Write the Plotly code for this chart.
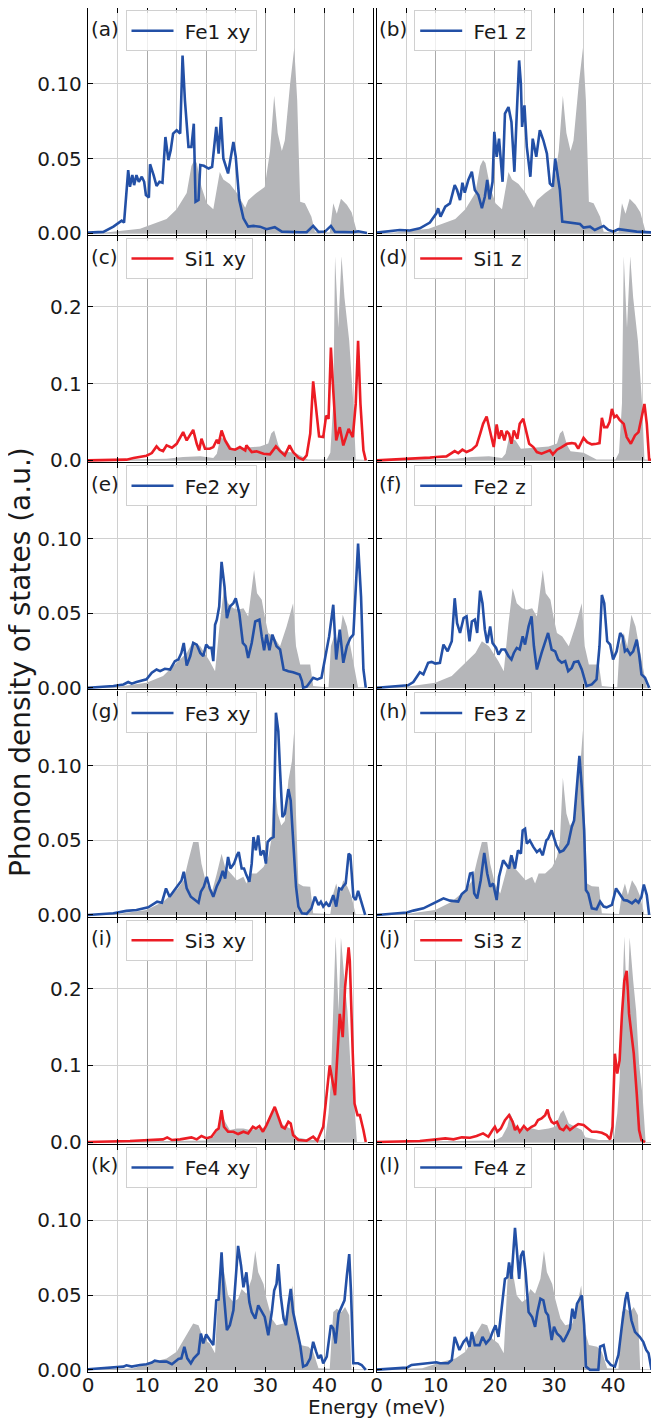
import plotly.graph_objects as go

# ---------------- data (energy in meV, phonon DOS in a.u.) ----------------
E_FE1_XY = [0, 2.6, 4.3, 5.7, 6.1, 6.8, 7.1, 7.5, 7.8, 8.2, 8.6, 9.1, 9.5, 9.8, 10.3, 10.5, 11.1, 11.6, 12.1, 12.6,
            13.1, 13.6, 14.0, 14.4, 15.0, 15.6, 16.0, 16.4, 17.0, 17.5, 17.9, 18.2, 18.7, 19.0, 19.6, 20.4, 21.0, 21.7,
            22.1, 22.5, 22.9, 23.7, 24.6, 25.0, 25.6, 26.3, 27.1, 28.0, 29.1, 30.2, 31.6, 32.8, 35.9, 37.0, 38.1, 39.0,
            40.1, 41.1, 41.8, 44.9, 45.7, 47.2]
D_FE1_XY = [0.0004, 0.0009, 0.0044, 0.0084, 0.0071, 0.0422, 0.0311, 0.0389, 0.0322, 0.0389, 0.0344, 0.0378, 0.0344,
            0.0256, 0.024, 0.0462, 0.0389, 0.0316, 0.0344, 0.0338, 0.0644, 0.0489, 0.0556, 0.0667, 0.0689, 0.0667,
            0.1189, 0.0889, 0.0578, 0.0578, 0.0733, 0.0211, 0.0222, 0.0456, 0.0451, 0.0433, 0.0444, 0.0711, 0.0533,
            0.0778, 0.05, 0.04, 0.0611, 0.0511, 0.0222, 0.01, 0.0044, 0.0049, 0.0044, 0.0027, 0.004, 0.0011, 0.0007,
            0.0007, 0.0049, 0.0009, 0.0011, 0.0049, 0.0009, 0.0007, 0.0013, 0.0002]

E_FE1_Z = [0, 3.9, 5.6, 7.3, 9.0, 10.1, 10.4, 10.8, 11.6, 12.4, 13.2, 13.6, 14.1, 14.5, 14.9, 15.5, 16.1, 16.6, 17.2,
           17.8, 18.3, 18.7, 19.1, 19.6, 19.9, 20.3, 20.7, 21.3, 21.7, 22.3, 22.8, 23.3, 23.7, 24.1, 24.4, 24.6, 25.0,
           25.4, 26.0, 26.4, 27.0, 27.6, 28.2, 28.8, 29.3, 29.8, 30.2, 30.6, 31.0, 31.4, 32.7, 34.4, 35.0, 36.1, 36.9,
           38.4, 39.2, 40.0, 40.9, 42.3, 44.0, 47.4]
D_FE1_Z = [0.0004, 0.0022, 0.0018, 0.0033, 0.0071, 0.0133, 0.0167, 0.0111, 0.0178, 0.02, 0.0322, 0.0289, 0.0222,
           0.0338, 0.0271, 0.0356, 0.0411, 0.0289, 0.0256, 0.0167, 0.0244, 0.0356, 0.0227, 0.0344, 0.0678, 0.0511,
           0.0633, 0.0344, 0.08, 0.0844, 0.0744, 0.0411, 0.08, 0.1156, 0.1, 0.0711, 0.0856, 0.0578, 0.0378, 0.0633,
           0.0511, 0.0689, 0.0622, 0.0533, 0.0333, 0.0311, 0.05, 0.04, 0.0289, 0.0078, 0.0071, 0.0062, 0.0038, 0.0044,
           0.0022, 0.0049, 0.0022, 0.0011, 0.0027, 0.0022, 0.0011, 0.0004]

E_SI1_XY = [0, 4.9, 6.5, 7.7, 8.8, 9.9, 10.8, 11.6, 12.1, 12.7, 13.3, 14.2, 15.0, 16.1, 16.7, 17.3, 17.8, 18.4, 18.8,
            19.2, 19.8, 20.6, 21.2, 21.8, 22.1, 22.6, 23.2, 24.0, 24.9, 25.7, 26.6, 26.8, 27.7, 28.5, 29.7, 30.8, 31.8,
            32.5, 33.3, 34.1, 34.7, 35.6, 36.4, 37.0, 37.6, 38.1, 38.6, 39.1, 39.8, 40.3, 40.7, 41.1, 41.5, 42.0, 42.6,
            43.2, 44.1, 44.8, 45.3, 45.7, 46.1, 46.6, 47.0]
D_SI1_XY = [0, 0, 0.0009, 0.003, 0.0043, 0.0061, 0.0095, 0.0182, 0.0139, 0.0121, 0.0195, 0.0165, 0.0216, 0.0368,
            0.026, 0.0346, 0.0398, 0.0216, 0.013, 0.0281, 0.0152, 0.0152, 0.0173, 0.0268, 0.0216, 0.039, 0.026,
            0.0152, 0.0139, 0.0173, 0.013, 0.0195, 0.0108, 0.0117, 0.0087, 0.0078, 0.0182, 0.0121, 0.0065, 0.0195,
            0.0108, 0.0035, 0.0009, 0.0065, 0.0346, 0.103, 0.0693, 0.0312, 0.0303, 0.0584, 0.0541, 0.1472, 0.0909,
            0.026, 0.0433, 0.0195, 0.0411, 0.0303, 0.0736, 0.1558, 0.0736, 0.013, 0]

E_SI1_Z = [0, 4.5, 7.3, 9.0, 10.1, 11.8, 13.2, 13.8, 14.5, 15.2, 16.1, 16.9, 17.5, 18.0, 18.6, 19.2, 19.8, 20.3, 20.7,
           21.1, 21.6, 22.0, 22.4, 22.8, 23.2, 23.8, 24.2, 24.8, 25.3, 25.8, 26.5, 27.1, 27.9, 28.8, 29.3, 29.8, 30.5,
           31.3, 32.2, 33.0, 33.6, 34.1, 35.0, 35.6, 36.4, 37.2, 37.7, 38.1, 38.5, 39.0, 39.4, 39.8, 40.2, 40.6, 41.1,
           41.8, 42.3, 43.0, 43.7, 44.3, 44.8, 45.3, 45.7, 46.1, 47.4]
D_SI1_Z = [0, 0.0013, 0.0022, 0.0035, 0.0043, 0.0052, 0.0121, 0.0095, 0.0139, 0.0108, 0.0139, 0.0195, 0.0346, 0.0476,
           0.0571, 0.0368, 0.0173, 0.0468, 0.0281, 0.039, 0.026, 0.0381, 0.0346, 0.0216, 0.039, 0.0281, 0.0476, 0.0541,
           0.0368, 0.0216, 0.0173, 0.0108, 0.0087, 0.0121, 0.013, 0.0078, 0.0139, 0.0173, 0.0216, 0.0225, 0.0216,
           0.0152, 0.0294, 0.0238, 0.0208, 0.0216, 0.0225, 0.0554, 0.0433, 0.0433, 0.0498, 0.0671, 0.0563, 0.0584,
           0.0528, 0.0476, 0.0303, 0.0216, 0.0325, 0.0368, 0.0563, 0.0736, 0.0476, 0.0009, 0]

E_FE2_XY = [0, 4.3, 6.0, 6.8, 7.4, 8.2, 9.9, 10.8, 11.6, 12.2, 13.0, 13.9, 14.7, 15.3, 15.8, 16.2, 16.7, 17.3, 17.8,
            18.4, 19.0, 19.5, 20.0, 20.5, 20.9, 21.2, 21.5, 21.8, 22.2, 22.6, 23.1, 23.5, 24.0, 24.6, 25.0, 25.6, 26.2,
            26.7, 27.1, 27.7, 28.3, 29.0, 29.4, 29.8, 30.2, 30.7, 31.2, 31.9, 32.5, 33.1, 33.9, 34.7, 35.8, 36.2, 36.4,
            37.0, 38.1, 38.8, 39.5, 40.1, 40.8, 41.5, 42.0, 42.6, 43.2, 43.8, 44.4, 44.9, 45.3, 45.7, 46.2, 46.6, 47.0]
D_FE2_XY = [0, 0.0011, 0.0022, 0.0038, 0.0027, 0.0038, 0.0056, 0.01, 0.0122, 0.0111, 0.0127, 0.0122, 0.0178, 0.0189,
            0.0233, 0.03, 0.0149, 0.0211, 0.03, 0.0289, 0.0233, 0.0211, 0.0289, 0.0267, 0.0267, 0.0178, 0.0422, 0.0456,
            0.0544, 0.0844, 0.0678, 0.0467, 0.0544, 0.0567, 0.06, 0.05, 0.03, 0.0278, 0.02, 0.03, 0.0444, 0.0456,
            0.0344, 0.0251, 0.0356, 0.0251, 0.0356, 0.0278, 0.0256, 0.0122, 0.0111, 0.0104, 0.0089, 0.0044, 0, 0.0007,
            0.0067, 0.0056, 0.0067, 0.0189, 0.0344, 0.0556, 0.0189, 0.0389, 0.0167, 0.0278, 0.0333, 0.0356, 0.0633,
            0.0967, 0.0611, 0.0122, 0]

E_FE2_Z = [0, 3.4, 5.3, 6.2, 6.8, 7.3, 7.9, 8.7, 9.3, 9.9, 10.7, 11.3, 12.0, 12.7, 13.2, 13.6, 14.1, 14.7, 15.2, 15.7,
           16.1, 16.6, 17.0, 17.5, 17.9, 18.3, 18.7, 19.2, 19.6, 20.2, 20.6, 21.1, 21.7, 22.3, 22.8, 23.2, 23.7, 24.2,
           24.7, 25.1, 25.7, 26.2, 26.6, 27.1, 27.9, 28.6, 29.0, 29.6, 30.2, 30.7, 31.3, 31.9, 32.4, 33.0, 33.4, 34.1,
           34.7, 35.5, 36.4, 37.2, 37.7, 38.1, 38.5, 39.0, 39.5, 40.0, 40.6, 41.2, 41.6, 42.0, 42.4, 42.9, 43.4, 44.0,
           44.4, 44.8, 45.4, 46.1]
D_FE2_Z = [0, 0.0011, 0.0016, 0.0038, 0.0078, 0.0104, 0.0089, 0.0167, 0.0173, 0.0162, 0.0167, 0.0289, 0.0244, 0.0311,
           0.06, 0.0433, 0.0367, 0.0467, 0.0478, 0.0311, 0.0444, 0.0456, 0.0367, 0.0651, 0.0567, 0.0389, 0.03, 0.0411,
           0.03, 0.0267, 0.0222, 0.0256, 0.0256, 0.0211, 0.0189, 0.0233, 0.0267, 0.0256, 0.0344, 0.0289, 0.0411,
           0.0478, 0.0278, 0.0122, 0.0233, 0.0322, 0.0367, 0.0256, 0.0244, 0.0189, 0.0167, 0.0178, 0.0111, 0.0133,
           0.0171, 0.0178, 0.0122, 0.0011, 0.0022, 0.0056, 0.0278, 0.0622, 0.0567, 0.0311, 0.0289, 0.0189, 0.0244,
           0.0367, 0.0344, 0.0244, 0.0256, 0.0222, 0.0244, 0.0322, 0.0222, 0.0089, 0.0067, 0]

E_FE3_XY = [0, 4.3, 6.5, 8.2, 10.2, 11.1, 11.7, 12.5, 13.2, 13.8, 14.4, 15.1, 15.8, 16.2, 16.7, 17.4, 18.1, 18.7, 19.1,
            19.6, 20.1, 20.6, 21.2, 21.8, 22.3, 22.8, 23.2, 23.7, 24.1, 24.7, 25.2, 25.5, 26.0, 26.4, 26.8, 27.3, 27.7,
            28.0, 28.4, 28.8, 29.2, 29.7, 30.1, 30.4, 30.9, 31.4, 31.8, 32.2, 32.5, 32.9, 33.3, 33.9, 34.3, 34.7, 35.2,
            35.6, 36.2, 37.0, 37.8, 38.4, 39.0, 39.4, 39.8, 40.3, 40.8, 41.5, 42.0, 42.5, 42.9, 43.2, 43.6, 44.1, 44.4,
            44.9, 45.3, 45.7, 46.3, 46.9]
D_FE3_XY = [0, 0.0011, 0.0027, 0.0033, 0.0051, 0.0073, 0.0089, 0.0082, 0.0178, 0.0122, 0.0156, 0.0189, 0.0229, 0.0289,
            0.0178, 0.0122, 0.01, 0.0082, 0.0156, 0.0189, 0.0256, 0.0178, 0.0122, 0.0193, 0.0233, 0.0296, 0.0244,
            0.0389, 0.0311, 0.0344, 0.04, 0.0422, 0.0311, 0.0311, 0.0267, 0.0222, 0.0344, 0.0522, 0.0433, 0.0533, 0.04,
            0.0433, 0.0344, 0.0489, 0.0511, 0.0522, 0.1356, 0.1233, 0.0967, 0.0656, 0.0678, 0.0844, 0.0767, 0.0478,
            0.0189, 0.0056, 0.0011, 0.0007, 0.0044, 0.0122, 0.0067, 0.0089, 0.0056, 0.0082, 0.0056, 0.0133, 0.0056,
            0.0178, 0.0171, 0.0193, 0.0211, 0.0411, 0.04, 0.0122, 0.01, 0.0162, 0.0078, 0]

E_FE3_Z = [0, 5.1, 6.2, 7.9, 9.6, 10.7, 11.3, 12.4, 13.8, 14.4, 15.2, 15.8, 16.2, 16.5, 17.0, 17.6, 18.2, 18.7, 19.2,
           19.7, 20.3, 20.7, 21.4, 22.0, 22.4, 22.8, 23.4, 23.9, 24.4, 24.7, 25.1, 25.4, 25.9, 26.5, 27.1, 27.6, 28.1,
           28.7, 29.0, 29.6, 30.0, 30.4, 31.0, 31.6, 32.4, 33.0, 33.4, 33.8, 34.3, 34.7, 35.1, 35.4, 35.8, 36.4, 37.2,
           37.8, 38.4, 38.9, 39.8, 40.5, 41.1, 41.8, 42.4, 43.2, 43.8, 44.3, 44.8, 45.2, 45.7, 46.1]
D_FE3_Z = [0, 0.0016, 0.0029, 0.0044, 0.0078, 0.01, 0.0111, 0.0096, 0.0089, 0.014, 0.0167, 0.0278, 0.0282, 0.0144,
           0.0111, 0.0233, 0.0416, 0.0278, 0.0189, 0.0211, 0.01, 0.0256, 0.0367, 0.0333, 0.0311, 0.04, 0.0311, 0.0433,
           0.0411, 0.0567, 0.0578, 0.0478, 0.05, 0.0456, 0.0422, 0.0438, 0.04, 0.05, 0.0511, 0.0567, 0.0511, 0.0467,
           0.0422, 0.0433, 0.0478, 0.0589, 0.0633, 0.0856, 0.1067, 0.0856, 0.0567, 0.0167, 0.0144, 0.0044, 0.0038,
           0.0089, 0.0056, 0.0051, 0.0067, 0.0178, 0.0144, 0.01, 0.0096, 0.0078, 0.01, 0.0082, 0.0122, 0.0204, 0.0133, 0]

E_SI3_XY = [0, 7.1, 12.7, 13.4, 14.2, 15.6, 17.5, 18.4, 19.2, 20.1, 20.9, 21.7, 22.1, 22.6, 23.0, 23.7, 24.6, 25.4,
            26.3, 27.1, 27.9, 28.4, 29.0, 29.6, 30.2, 31.1, 31.6, 32.2, 32.8, 33.3, 33.9, 34.3, 34.7, 35.6, 37.0, 38.1,
            38.8, 39.8, 40.9, 41.8, 42.4, 42.6, 43.1, 43.5, 44.1, 44.3, 44.8, 45.1, 45.6, 46.0, 46.6, 47.0]
D_SI3_XY = [0, 0.0013, 0.0035, 0.0061, 0.0026, 0.0035, 0.0061, 0.0035, 0.0078, 0.0048, 0.0069, 0.0156, 0.0177, 0.0416,
            0.0199, 0.0134, 0.0134, 0.0104, 0.0134, 0.0113, 0.0199, 0.0177, 0.0208, 0.0134, 0.0221, 0.0372, 0.0459,
            0.0329, 0.0199, 0.0177, 0.0264, 0.0242, 0.0091, 0.0026, 0.0017, 0.0069, 0.0017, 0.0199, 0.1, 0.061, 0.1498,
            0.1671, 0.1368, 0.2018, 0.2537, 0.2364, 0.1152, 0.0502, 0.0351, 0.0351, 0.0156, 0]

E_SI3_Z = [0, 7.3, 10.1, 11.6, 13.0, 14.4, 15.8, 16.9, 18.0, 18.9, 19.6, 20.0, 20.4, 21.0, 21.7, 22.4, 23.0, 23.4, 23.8,
           24.2, 24.9, 25.5, 26.2, 26.8, 27.3, 27.9, 28.5, 28.9, 29.2, 29.6, 30.0, 30.5, 31.0, 31.6, 32.1, 32.7, 33.4,
           34.1, 35.0, 35.8, 36.4, 37.2, 38.1, 38.9, 39.5, 39.9, 40.3, 40.7, 41.1, 41.5, 41.9, 42.3, 42.7, 43.1, 43.5,
           44.0, 44.4, 44.8, 45.4]
D_SI3_Z = [0, 0.0013, 0.0035, 0.0048, 0.0035, 0.0061, 0.0056, 0.0078, 0.0113, 0.0069, 0.0156, 0.0199, 0.0134, 0.0177,
           0.0286, 0.0351, 0.0264, 0.0156, 0.0199, 0.0134, 0.0208, 0.0156, 0.0199, 0.0221, 0.0286, 0.0307, 0.0351,
           0.0424, 0.0329, 0.0264, 0.0242, 0.0264, 0.0177, 0.0156, 0.0208, 0.0156, 0.0199, 0.0234, 0.0221, 0.0177,
           0.0134, 0.0134, 0.0121, 0.0091, 0.0035, 0.0199, 0.1152, 0.0892, 0.1065, 0.1671, 0.2104, 0.2234, 0.1671,
           0.1411, 0.1152, 0.0632, 0.0156, 0.0026, 0]

E_FE4_XY = [0, 2.0, 4.3, 6.0, 6.5, 7.4, 8.8, 9.9, 10.8, 11.3, 12.2, 13.3, 14.2, 14.7, 15.3, 15.8, 16.3, 16.8, 17.4,
            17.9, 18.7, 19.1, 19.5, 20.0, 20.6, 21.2, 21.7, 22.1, 22.6, 23.0, 23.5, 24.0, 24.6, 25.0, 25.4, 25.9, 26.3,
            26.8, 27.3, 27.7, 28.3, 28.8, 29.4, 29.9, 30.5, 31.1, 31.5, 31.9, 32.2, 32.6, 33.1, 33.5, 33.9, 34.3, 34.7,
            35.3, 35.9, 36.4, 37.0, 37.6, 38.1, 38.6, 39.0, 39.4, 39.8, 40.4, 41.1, 41.5, 41.9, 42.4, 42.9, 43.4, 43.8,
            44.2, 44.5, 44.9, 45.7, 46.3, 47.0]
D_FE4_XY = [0.0004, 0.0011, 0.0018, 0.0022, 0.0031, 0.0022, 0.0033, 0.0038, 0.0049, 0.0062, 0.0055, 0.0055, 0.0038,
            0.0055, 0.0073, 0.0077, 0.0155, 0.0077, 0.0044, 0.0077, 0.0111, 0.0243, 0.0177, 0.0237, 0.0199, 0.0166,
            0.0465, 0.0471, 0.0786, 0.0498, 0.0266, 0.0299, 0.0398, 0.0653, 0.083, 0.0697, 0.0553, 0.0653, 0.0454,
            0.0387, 0.0343, 0.0432, 0.0387, 0.0354, 0.0232, 0.0387, 0.0531, 0.0575, 0.0708, 0.0498, 0.0343, 0.0299,
            0.0432, 0.0542, 0.0387, 0.0277, 0.0166, 0.0022, 0.0033, 0.0077, 0.0188, 0.0122, 0.0077, 0.01, 0.0044,
            0.0089, 0.0299, 0.0277, 0.0177, 0.0376, 0.0421, 0.0465, 0.0631, 0.0775, 0.052, 0.0044, 0.0044, 0.0033, 0]

E_FE4_Z = [0, 3.4, 5.1, 5.9, 7.3, 8.7, 10.1, 10.7, 12.1, 12.7, 13.2, 14.0, 14.7, 15.2, 15.7, 16.1, 16.6, 17.4, 17.9,
           18.5, 19.2, 19.6, 20.1, 20.6, 21.1, 21.7, 22.1, 22.4, 22.8, 23.1, 23.4, 23.7, 24.1, 24.4, 24.8, 25.2, 25.7,
           26.3, 26.8, 27.2, 27.7, 28.2, 28.6, 29.0, 29.6, 30.0, 30.5, 31.1, 31.6, 32.3, 32.7, 33.1, 33.5, 33.9, 34.7,
           35.1, 35.4, 36.1, 37.5, 37.8, 38.4, 38.9, 39.6, 40.3, 40.9, 41.5, 42.1, 42.4, 42.7, 43.1, 43.7, 44.5, 45.1,
           45.6, 46.0, 46.5]
D_FE4_Z = [0.0002, 0.0011, 0.0015, 0.0033, 0.0038, 0.0044, 0.0051, 0.0044, 0.0044, 0.0066, 0.0221, 0.0133, 0.0188,
           0.021, 0.0155, 0.0254, 0.0166, 0.0166, 0.0221, 0.0177, 0.021, 0.0254, 0.0299, 0.0221, 0.0387, 0.0609, 0.062,
           0.0719, 0.0609, 0.0808, 0.095, 0.0808, 0.0609, 0.0763, 0.0797, 0.0653, 0.0387, 0.0354, 0.0288, 0.0387,
           0.0476, 0.0465, 0.0387, 0.0365, 0.0199, 0.0288, 0.0243, 0.0221, 0.0188, 0.0243, 0.0277, 0.0409, 0.0343,
           0.0443, 0.0498, 0.0299, 0.0022, 0, 0, 0.0155, 0.0166, 0.0066, 0.0033, 0.0022, 0.01, 0.0299, 0.0476, 0.052,
           0.0432, 0.0332, 0.0254, 0.0221, 0.0188, 0.0133, 0.0111, 0]

# grey reference DOS shown in each row (same in both columns of a row)
E_REF_FE1 = [0, 3, 8.8, 13.3, 15.0, 16.7, 17.5, 18.0, 18.4, 19.2, 20.1, 21.2, 22.3, 22.9, 24.0, 25.2, 26.6, 27.1, 28.5,
             29.9, 30.8, 31.5, 32.1, 32.8, 33.3, 34.2, 34.9, 35.4, 35.9, 36.7, 37.8, 38.4, 40.9, 41.5, 42.1, 42.8, 43.8,
             44.6, 45.5, 46.0, 48.3]
D_REF_FE1 = [0, 0.0005, 0.003, 0.0095, 0.016, 0.027, 0.045, 0.049, 0.047, 0.031, 0.02, 0.016, 0.041, 0.036, 0.033,
             0.027, 0.017, 0.022, 0.027, 0.031, 0.055, 0.092, 0.067, 0.055, 0.062, 0.10, 0.124, 0.089, 0.021, 0.02,
             0.011, 0.001, 0.0005, 0.02, 0.013, 0.023, 0.019, 0.014, 0.001, 0, 0]

E_REF_SI1 = [0, 9.4, 13.3, 16.1, 19.0, 21.2, 21.8, 22.4, 23.5, 24.4, 26.8, 29.1, 30.5, 31.0, 31.5, 32.2, 32.8, 35.0,
             37.2, 40.4, 41.0, 41.5, 41.8, 42.35, 42.9, 43.4, 44.2, 44.9, 45.3, 48.3]
D_REF_SI1 = [0, 0.002, 0.002, 0.0043, 0.0052, 0.003, 0.0087, 0.03, 0.026, 0.015, 0.017, 0.018, 0.022, 0.035, 0.039,
             0.02, 0.012, 0.01, 0.001, 0.001, 0.01, 0.074, 0.266, 0.173, 0.266, 0.212, 0.156, 0.074, 0.001, 0]

E_REF_FE2 = [0, 5, 9.9, 12.7, 15.0, 16.7, 17.8, 19.0, 20.6, 21.5, 22.3, 23.0, 23.7, 24.6, 25.4, 26.3, 27.1, 27.5, 28.1,
             28.6, 29.4, 29.9, 30.5, 31.4, 32.5, 33.6, 34.7, 35.2, 35.9, 37.6, 38.1, 40.7, 41.1, 41.8, 42.4, 43.1, 43.8,
             44.4, 45.2, 45.7, 48.3]
D_REF_FE2 = [0, 0.0007, 0.0033, 0.0078, 0.0167, 0.0233, 0.0311, 0.0278, 0.0178, 0.0111, 0.0433, 0.0667, 0.0567,
             0.0533, 0.0522, 0.0533, 0.0478, 0.0589, 0.0789, 0.0633, 0.0589, 0.0478, 0.0367, 0.0344, 0.0278, 0.0411,
             0.0567, 0.0278, 0.0156, 0.0156, 0.0011, 0.0002, 0.0278, 0.0367, 0.0278, 0.0489, 0.0411, 0.0278, 0.0122, 0, 0]

E_REF_FE3 = [0, 5, 9.9, 12.7, 15.0, 16.2, 17.0, 17.8, 18.7, 19.2, 20.0, 20.9, 21.8, 22.6, 23.2, 24.0, 25.2, 26.3, 26.8,
             27.4, 28.5, 29.7, 30.5, 31.0, 31.5, 32.1, 32.7, 33.3, 33.9, 34.5, 34.9, 35.2, 35.6, 36.4, 37.6, 38.1, 41.0,
             41.5, 42.0, 42.5, 43.2, 43.9, 44.6, 45.3, 48.3]
D_REF_FE3 = [0, 0.0007, 0.0033, 0.0089, 0.0167, 0.0233, 0.0367, 0.0489, 0.0489, 0.0344, 0.0211, 0.0144, 0.0278, 0.0411,
             0.0322, 0.0289, 0.0233, 0.0256, 0.0211, 0.0278, 0.0278, 0.0322, 0.0389, 0.05, 0.092, 0.068, 0.06, 0.063,
             0.09, 0.103, 0.124, 0.067, 0.0211, 0.0193, 0.0189, 0.0011, 0.0007, 0.0144, 0.0211, 0.0133, 0.0233, 0.0189,
             0.0122, 0, 0]

E_REF_SI3 = [0, 10, 20.0, 21.2, 22.1, 22.6, 23.2, 24.0, 25.2, 26.3, 27.4, 29.1, 30.2, 31.1, 31.6, 32.5, 33.6, 34.7,
             35.3, 37.6, 40.1, 40.7, 41.1, 41.5, 41.9, 42.4, 42.8, 43.4, 43.9, 44.4, 45.0, 45.5, 48.3]
D_REF_SI3 = [0, 0.001, 0.002, 0.0069, 0.0199, 0.0372, 0.0264, 0.0156, 0.0177, 0.0177, 0.0156, 0.0177, 0.0199, 0.0372,
             0.0416, 0.0242, 0.0199, 0.0156, 0.0061, 0.0026, 0.0026, 0.0372, 0.0805, 0.1671, 0.2684, 0.171, 0.2667,
             0.2104, 0.171, 0.1022, 0.0589, 0, 0]

E_REF_FE4 = [0, 7.7, 11.1, 13.3, 15.0, 16.7, 17.8, 18.7, 19.5, 20.6, 21.5, 22.2, 22.9, 23.7, 24.6, 25.4, 26.0, 26.8,
             27.7, 28.3, 28.8, 29.7, 30.2, 31.1, 31.9, 33.1, 33.9, 34.6, 35.3, 35.9, 37.3, 38.1, 39.0, 40.9, 41.5, 42.1,
             42.9, 43.5, 44.2, 44.6, 48.3]
D_REF_FE4 = [0, 0.0011, 0.0055, 0.0077, 0.0122, 0.0232, 0.031, 0.0299, 0.021, 0.0177, 0.0111, 0.0653, 0.0686, 0.0498,
             0.0454, 0.0476, 0.0542, 0.0509, 0.0609, 0.0797, 0.0653, 0.0575, 0.0476, 0.0343, 0.0299, 0.031, 0.0432,
             0.0565, 0.0254, 0.0166, 0.0155, 0.0122, 0.0011, 0.0007, 0.0387, 0.0409, 0.0387, 0.042, 0.0365, 0, 0]

PANEL_LABELS = ["(a)", "(b)", "(c)", "(d)", "(e)", "(f)", "(g)", "(h)", "(i)", "(j)", "(k)", "(l)"]
SERIES_NAMES = ["Fe1 xy", "Fe1 z", "Si1 xy", "Si1 z", "Fe2 xy", "Fe2 z",
                "Fe3 xy", "Fe3 z", "Si3 xy", "Si3 z", "Fe4 xy", "Fe4 z"]
SERIES = [(E_FE1_XY, D_FE1_XY), (E_FE1_Z, D_FE1_Z), (E_SI1_XY, D_SI1_XY), (E_SI1_Z, D_SI1_Z),
          (E_FE2_XY, D_FE2_XY), (E_FE2_Z, D_FE2_Z), (E_FE3_XY, D_FE3_XY), (E_FE3_Z, D_FE3_Z),
          (E_SI3_XY, D_SI3_XY), (E_SI3_Z, D_SI3_Z), (E_FE4_XY, D_FE4_XY), (E_FE4_Z, D_FE4_Z)]
REFS = [(E_REF_FE1, D_REF_FE1), (E_REF_SI1, D_REF_SI1), (E_REF_FE2, D_REF_FE2),
        (E_REF_FE3, D_REF_FE3), (E_REF_SI3, D_REF_SI3), (E_REF_FE4, D_REF_FE4)]
ROW_SPECIES = ["Fe", "Si", "Fe", "Fe", "Si", "Fe"]

FE_TICKS = [0, 0.05, 0.10]
FE_TICKTEXT = ["0.00", "0.05", "0.10"]
SI_TICKS = [0, 0.1, 0.2]
SI_TICKTEXT = ["0.0", "0.1", "0.2"]
X_TICKS = [0, 10, 20, 30, 40]

for e, d in SERIES + REFS:
    assert len(e) == len(d)

# ---------------- styling / layout ----------------
# the page body has an 8 px margin, so the figure is laid out in page pixels minus that offset
OFF = 8
PAGE_W, PAGE_H = 659, 1420
WF, HF = PAGE_W - OFF, PAGE_H - OFF
BLUE = "#2350a6"
RED = "#ec1c24"
GREY_FILL = "#b5b6b9"
FONT = "DejaVu Sans"
TXT = "#1a1a1a"

COLS = [(88.0, 373.3), (376.7, 657.5)]          # page-pixel left/right of the two columns
TOP0, ROW_H, GAP = 8.3, 227.23, 1.0              # page-pixel row geometry
PX_PER_MEV = 5.91
FE_RANGE = [-0.0012, 0.1505]
SI_RANGE = [-0.0025, 0.2925]


def fx(p):
    return (p - OFF) / WF


def fy(p):
    return 1 - (p - OFF) / HF


fig = go.Figure()
layout = dict(width=WF, height=HF, margin=dict(l=0, r=0, t=0, b=0),
              paper_bgcolor="white", plot_bgcolor="white", template="none",
              font=dict(family=FONT, size=20, color=TXT), showlegend=True)
annotations = []

for i in range(12):
    r, c = divmod(i, 2)
    n = i + 1
    xname = "xaxis" if n == 1 else f"xaxis{n}"
    yname = "yaxis" if n == 1 else f"yaxis{n}"
    xref = "x" if n == 1 else f"x{n}"
    yref = "y" if n == 1 else f"y{n}"
    lname = "legend" if n == 1 else f"legend{n}"

    top = TOP0 + r * ROW_H + (GAP / 2 if r > 0 else 0)
    bot = TOP0 + (r + 1) * ROW_H - (GAP / 2 if r < 5 else 0)
    left, right = COLS[c]
    xmax = (right - left) / PX_PER_MEV
    is_si = ROW_SPECIES[r] == "Si"
    color = RED if is_si else BLUE

    eg, dg = REFS[r]
    fig.add_trace(go.Scatter(x=eg, y=dg, xaxis=xref, yaxis=yref, mode="lines", fill="tozeroy",
                             fillcolor=GREY_FILL, line=dict(width=0, color=GREY_FILL),
                             showlegend=False, hoverinfo="skip"))
    e, d = SERIES[i]
    fig.add_trace(go.Scatter(x=e, y=d, xaxis=xref, yaxis=yref, mode="lines",
                             name="\u00a0" + SERIES_NAMES[i],
                             line=dict(color=color, width=2.6), legend=lname))

    layout[xname] = dict(
        domain=[fx(left), fx(right)], range=[0, xmax], anchor=yref,
        tickmode="array", tickvals=X_TICKS, ticktext=[str(v) for v in X_TICKS],
        ticks="inside", ticklen=5, tickwidth=1.2, tickcolor="black",
        showline=True, linecolor="black", linewidth=1.3, mirror="ticks",
        showgrid=True, gridcolor="#aaaaaa", gridwidth=1,
        minor=dict(tick0=0, dtick=5, ticks="inside", ticklen=5, tickwidth=1.2, tickcolor="black",
                   showgrid=True, gridcolor="#d0d0d0", gridwidth=1),
        showticklabels=(r == 5), tickfont=dict(family=FONT, size=20, color=TXT),
        ticklabelstandoff=-5, zeroline=False, fixedrange=True)
    layout[yname] = dict(
        domain=[fy(bot), fy(top)], range=SI_RANGE if is_si else FE_RANGE, anchor=xref,
        tickmode="array", tickvals=SI_TICKS if is_si else FE_TICKS,
        ticktext=SI_TICKTEXT if is_si else FE_TICKTEXT,
        ticks="inside", ticklen=5, tickwidth=1.2, tickcolor="black",
        showline=True, linecolor="black", linewidth=1.3, mirror="ticks",
        showgrid=True, gridcolor="#d0d0d0", gridwidth=1,
        showticklabels=(c == 0), tickfont=dict(family=FONT, size=20, color=TXT),
        ticklabelstandoff=1, zeroline=False, fixedrange=True)

    layout[lname] = dict(
        x=fx(left + 37.5), y=fy(top + 2), xanchor="left", yanchor="top",
        bgcolor="rgba(255,255,255,0.8)", bordercolor="#d0d0d0", borderwidth=1,
        font=dict(family=FONT, size=20, color=TXT), itemwidth=42, tracegroupgap=0)

    annotations.append(dict(text=PANEL_LABELS[i], xref="paper", yref="paper",
                            x=fx(left + 0.5), y=fy(top + 20.5), xanchor="left", yanchor="middle",
                            showarrow=False, font=dict(family=FONT, size=20, color=TXT)))

annotations.append(dict(text="Energy (meV)", xref="paper", yref="paper", x=fx(376.5), y=fy(1407),
                        xanchor="center", yanchor="middle", showarrow=False,
                        font=dict(family=FONT, size=20, color=TXT)))
annotations.append(dict(text="Phonon density of states (a.u.)", xref="paper", yref="paper",
                        x=fx(20), y=fy(662), xanchor="center", yanchor="middle", textangle=-90,
                        showarrow=False, font=dict(family=FONT, size=28, color=TXT)))
layout["annotations"] = annotations

fig.update_layout(**layout)
fig.write_html("out.html")
